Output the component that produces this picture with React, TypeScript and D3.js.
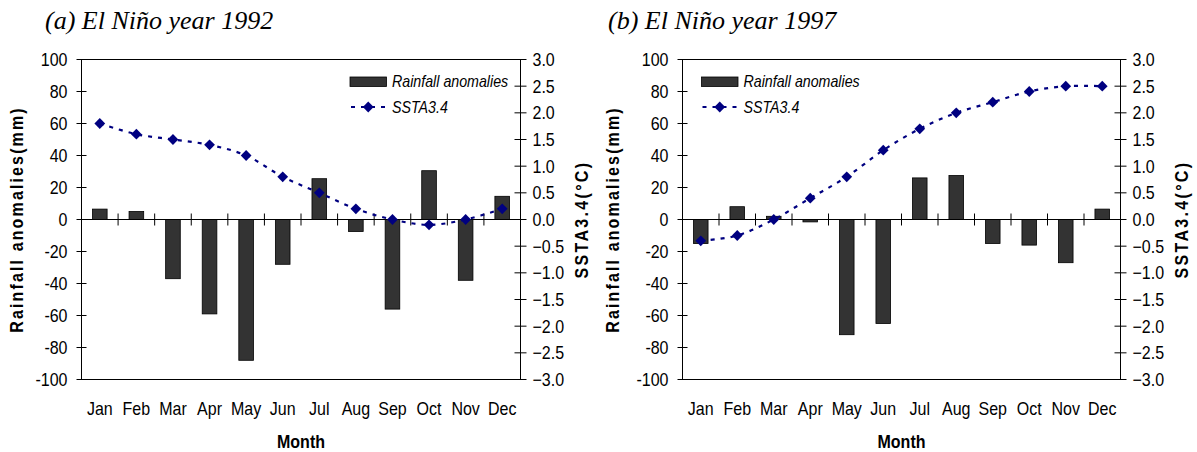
import React from "react"
import * as d3 from "d3"

const months = ["Jan", "Feb", "Mar", "Apr", "May", "Jun", "Jul", "Aug", "Sep", "Oct", "Nov", "Dec"]

// (a) 1992
const rain1992 = [6.5, 5, -37, -59, -88, -28, 25.5, -7.5, -56, 30.5, -38, 14.5]
const ssta1992 = [1.8, 1.6, 1.5, 1.4, 1.2, 0.8, 0.5, 0.2, 0.0, -0.1, 0.0, 0.2]

// (b) 1997
const rain1997 = [-15, 8, 2, -1.5, -72, -65, 26, 27.5, -15, -16, -27, 6.5]
const ssta1997 = [-0.4, -0.3, 0.0, 0.4, 0.8, 1.3, 1.7, 2.0, 2.2, 2.4, 2.5, 2.5]

const rainTicks = [-100, -80, -60, -40, -20, 0, 20, 40, 60, 80, 100]
const sstaTicks = [-3, -2.5, -2, -1.5, -1, -0.5, 0, 0.5, 1, 1.5, 2, 2.5, 3]

const SANS = "'Liberation Sans', Arial, sans-serif"
const NAVY = "#000080"
const SQ = 0.89 // excel text looks squeezed horizontally

function T(props: any) {
  const { x, y, rotate = 0, anchor = "start", size = 18, weight = "normal", italic = false, spacing = 0, children } = props
  return (
    <text
      transform={`translate(${x},${y}) rotate(${rotate}) scale(${SQ},1)`}
      textAnchor={anchor}
      fontFamily={SANS}
      fontSize={size}
      fontWeight={weight}
      fontStyle={italic ? "italic" : "normal"}
      letterSpacing={spacing}
      fill="#000"
    >
      {children}
    </text>
  )
}

const diamond = d3.symbol(d3.symbolSquare, 58)()

function Panel(props: any) {
  const { x0, x1, title, titleX, rain, ssta, legendX, yLabelX } = props
  const top = 59.5
  const bottom = 379.5

  const x = d3.scaleBand().domain(months).range([x0, x1]).paddingInner(0.6).paddingOuter(0.3)
  const yL = d3.scaleLinear().domain([-100, 100]).range([bottom, top])
  const yR = d3.scaleLinear().domain([-3, 3]).range([bottom, top])
  const fmt = d3.format(".1f")
  const gap = (x.step() - x.bandwidth()) / 2
  const cx = (m: string) => (x(m) as number) + x.bandwidth() / 2

  const line = d3
    .line<number>()
    .x((d, i) => cx(months[i]))
    .y(d => yR(d))
    .curve(d3.curveCatmullRom.alpha(0.5))

  const z = yL(0)

  return (
    <g>
      <text x={titleX} y={29} fontFamily="'Liberation Serif', 'Times New Roman', serif" fontStyle="italic" fontSize={26}>
        {title}
      </text>

      {/* frame */}
      <line x1={x0} x2={x1} y1={top} y2={top} stroke="#000" />
      <line x1={x0} x2={x1} y1={bottom} y2={bottom} stroke="#000" />
      <line x1={x0} x2={x0} y1={top} y2={bottom} stroke="#000" />
      <line x1={x1} x2={x1} y1={top} y2={bottom} stroke="#000" />

      {/* left axis */}
      {rainTicks.map(t => (
        <g key={"l" + t}>
          <line x1={x0 - 5} x2={x0 + 5} y1={yL(t)} y2={yL(t)} stroke="#000" />
          <T x={x0 - 14} y={yL(t) + 6.5} anchor="end">{t}</T>
        </g>
      ))}

      {/* right axis */}
      {sstaTicks.map(t => (
        <g key={"r" + t}>
          <line x1={x1 - 6} x2={x1 + 6} y1={yR(t)} y2={yR(t)} stroke="#000" />
          <T x={x1 + 12} y={yR(t) + 6.5}>{fmt(t)}</T>
        </g>
      ))}

      {/* bars */}
      {rain.map((v: number, i: number) => (
        <rect
          key={"b" + i}
          x={x(months[i])}
          width={x.bandwidth()}
          y={Math.min(yL(v), z)}
          height={Math.abs(yL(v) - z)}
          fill="#333333"
          stroke="#000"
          strokeWidth={0.8}
        />
      ))}

      {/* category axis at zero */}
      <line x1={x0} x2={x1} y1={z} y2={z} stroke="#000" />
      {months.slice(1).map(m => (
        <line key={"c" + m} x1={(x(m) as number) - gap} x2={(x(m) as number) - gap} y1={z - 6} y2={z + 6} stroke="#000" />
      ))}

      {/* SSTA line */}
      <path d={line(ssta) as string} fill="none" stroke={NAVY} strokeWidth={2.2} strokeDasharray="4 6" />
      {ssta.map((v: number, i: number) => (
        <path key={"d" + i} d={diamond as string} transform={`translate(${cx(months[i])},${yR(v)}) rotate(45)`} fill={NAVY} />
      ))}

      {/* month labels */}
      {months.map(m => (
        <T key={"m" + m} x={cx(m)} y={415} anchor="middle">{m}</T>
      ))}
      <T x={(x0 + x1) / 2} y={448} anchor="middle" weight="bold">Month</T>

      {/* axis titles */}
      <T x={yLabelX} y={(top + bottom) / 2} rotate={-90} anchor="middle" weight="bold" spacing={2.4}>
        Rainfall anomalies(mm)
      </T>
      <T x={x1 + 67} y={(top + bottom) / 2} rotate={-90} anchor="middle" weight="bold" spacing={2.6}>
        SSTA3.4(°C)
      </T>

      {/* legend */}
      <rect x={legendX} y={77} width={36.5} height={9.5} fill="#333333" stroke="#000" strokeWidth={0.8} />
      <T x={legendX + 42} y={86.5} size={16} italic>Rainfall anomalies</T>
      <line x1={legendX} x2={legendX + 36.5} y1={107} y2={107} stroke={NAVY} strokeWidth={2.2} strokeDasharray="4 6" strokeDashoffset={-1} />
      <path d={diamond as string} transform={`translate(${legendX + 18.25},107) rotate(45)`} fill={NAVY} />
      <T x={legendX + 42} y={112.5} size={16} italic>SSTA3.4</T>
    </g>
  )
}

export default function App() {
  return (
    <svg width={1197} height={452} style={{ position: "absolute", left: 0, top: 0, background: "#fff" }}>
      <rect width={1197} height={452} fill="#fff" />
      <Panel x0={81.5} x1={520.5} title="(a) El Niño year 1992" titleX={45} rain={rain1992} ssta={ssta1992} legendX={350} yLabelX={23} />
      <Panel x0={682.5} x1={1120.5} title="(b) El Niño year 1997" titleX={608} rain={rain1997} ssta={ssta1997} legendX={701.5} yLabelX={619} />
    </svg>
  )
}
